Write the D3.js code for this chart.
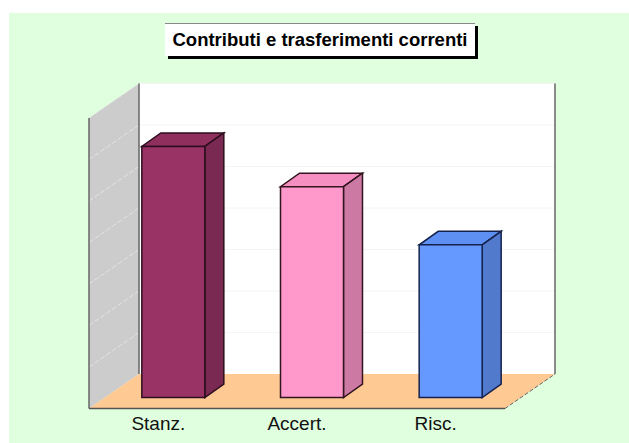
<!doctype html>
<html lang="en">
<head>
  <meta charset="utf-8">
  <title>Contributi e trasferimenti correnti</title>
  <script src="https://cdnjs.cloudflare.com/ajax/libs/d3/7.8.5/d3.min.js"></script>
  <style>
    html, body { margin: 0; padding: 0; background: #fff; }
    svg { display: block; font-family: "Liberation Sans", Arial, sans-serif; }
  </style>
</head>
<body>
  <svg width="629" height="443" id="svg"></svg>
<script>
  var titleText = 'Contributi e trasferimenti correnti';
  var categories = ['Stanz.', 'Accert.', 'Risc.'];
  var values = [6.05, 5.08, 3.68];
  var faces = ['#993366', '#FF99CC', '#6699FF'];
  var tops = ['#8E2F5E', '#F58FC2', '#5E8FF2'];
  var sides = ['#7A2952', '#CC7AA3', '#527ACC'];
  var strokes = ['#2E0F1F', '#33141F', '#14224D'];
  var gridTicks = [1, 2, 3, 4, 5, 6, 7];

  var svg = d3.select('#svg');

  // plot box, front plane of the floor plus the depth going back
  var left = 89, right = 505, floorY = 408.5, topY = 118;
  var depthX = 50, depthY = 34.5;

  // bars sit part way into the depth
  var barDx = 15, barDy = 11, barDepthX = 19, barDepthY = 13.5;

  var x = d3.scaleBand().domain(categories).range([left, right]).paddingInner(0.5457).paddingOuter(0.2728);
  var y = d3.scaleLinear().domain([0, 7]).range([floorY, topY]);

  var poly = function(pts, fill, stroke, sw) {
    return svg.append('polygon')
      .attr('points', pts.map(function(p) { return p.join(','); }).join(' '))
      .attr('fill', fill)
      .attr('stroke', stroke || 'none')
      .attr('stroke-width', sw || 0);
  };

  svg.append('rect').attr('x', 9).attr('y', 13).attr('width', 620).attr('height', 430).attr('fill', '#DFFFDF');

  // back wall, left wall, floor
  poly([[left + depthX, topY - depthY], [right + depthX, topY - depthY], [right + depthX, floorY - depthY], [left + depthX, floorY - depthY]], '#fff');
  poly([[left, topY], [left + depthX, topY - depthY], [left + depthX, floorY - depthY], [left, floorY]], '#CCCCCC');
  poly([[left, floorY], [left + depthX, floorY - depthY], [right + depthX, floorY - depthY], [right, floorY]], '#FFC994');

  // gridlines run along the left wall and the back wall
  gridTicks.forEach(function(t) {
    var gy = y(t);
    svg.append('line')
      .attr('x1', left).attr('y1', gy)
      .attr('x2', left + depthX).attr('y2', gy - depthY)
      .attr('stroke', '#E4E4E4')
      .attr('stroke-dasharray', '5 2');
    svg.append('line')
      .attr('x1', left + depthX).attr('y1', gy - depthY)
      .attr('x2', right + depthX).attr('y2', gy - depthY)
      .attr('stroke', '#F4F4F4');
  });

  // frame
  var frame = '#666666';
  svg.append('line').attr('x1', left).attr('x2', left).attr('y1', topY).attr('y2', floorY).attr('stroke', frame).attr('stroke-width', 1.5);
  svg.append('line').attr('x1', left + depthX).attr('x2', left + depthX).attr('y1', topY - depthY).attr('y2', floorY - depthY).attr('stroke', frame).attr('stroke-width', 1.5);
  svg.append('line').attr('x1', right + depthX).attr('x2', right + depthX).attr('y1', topY - depthY).attr('y2', floorY - depthY).attr('stroke', frame).attr('stroke-width', 1.5);
  svg.append('line').attr('x1', left).attr('x2', right).attr('y1', floorY).attr('y2', floorY).attr('stroke', '#555555').attr('stroke-width', 1.5);
  svg.append('line').attr('x1', right).attr('x2', right + depthX).attr('y1', floorY).attr('y2', floorY - depthY).attr('stroke', '#666666').attr('stroke-width', 1).attr('stroke-dasharray', '4 2');

  // bars
  categories.forEach(function(c, i) {
    var x0 = x(c) + barDx, x1 = x0 + x.bandwidth();
    var yb = y(0) - barDy, yt = y(values[i]) - barDy;
    poly([[x0, yt], [x1, yt], [x1 + barDepthX, yt - barDepthY], [x0 + barDepthX, yt - barDepthY]], tops[i], strokes[i], 1.5);
    poly([[x1, yt], [x1 + barDepthX, yt - barDepthY], [x1 + barDepthX, yb - barDepthY], [x1, yb]], sides[i], strokes[i], 1.5);
    poly([[x0, yt], [x1, yt], [x1, yb], [x0, yb]], faces[i], strokes[i], 1.5);
  });

  // category labels
  var axis = svg.append('g')
    .attr('transform', 'translate(0,' + floorY + ')')
    .call(d3.axisBottom(x).tickSize(0).tickPadding(8));
  axis.select('.domain').remove();
  axis.selectAll('text')
    .attr('font-size', 19)
    .attr('font-family', '"Liberation Sans", Arial, sans-serif')
    .attr('fill', '#111');

  // title box with its hard shadow
  svg.append('rect').attr('x', 168).attr('y', 26).attr('width', 310).attr('height', 33).attr('fill', '#000');
  svg.append('rect').attr('x', 165).attr('y', 23).attr('width', 310).attr('height', 33).attr('fill', '#fff');
  svg.append('line').attr('x1', 165).attr('x2', 475).attr('y1', 23.5).attr('y2', 23.5).attr('stroke', '#888');
  svg.append('text')
    .attr('x', 320).attr('y', 46)
    .attr('text-anchor', 'middle')
    .attr('font-size', 18.5)
    .attr('font-weight', 'bold')
    .attr('fill', '#000')
    .text(titleText);
</script>
</body>
</html>
